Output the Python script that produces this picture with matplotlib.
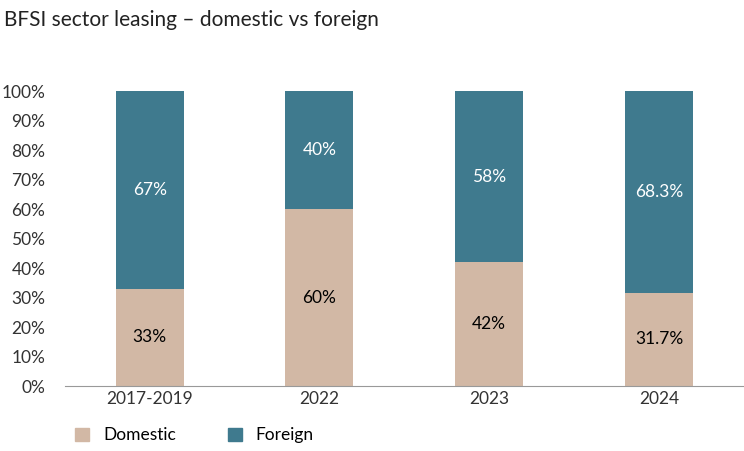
import matplotlib
matplotlib.use("Agg")
import matplotlib.pyplot as plt
from matplotlib.patches import Patch

categories = ["2017-2019", "2022", "2023", "2024"]
domestic = [33, 60, 42, 31.7]
foreign = [67, 40, 58, 68.3]
dom_labels = ["33%", "60%", "42%", "31.7%"]
for_labels = ["67%", "40%", "58%", "68.3%"]

plt.rcParams["font.family"] = "Lato"
fig = plt.figure(figsize=(7.44, 4.51), dpi=100)
ax = fig.add_axes([0.087, 0.144, 0.913, 0.654])
c_dom, c_for = "#D2B8A5", "#3F7A8E"
x = range(len(categories))
ax.bar(x, domestic, width=0.4, color=c_dom)
ax.bar(x, foreign, width=0.4, bottom=domestic, color=c_for)
for i in x:
    ax.text(i, domestic[i] / 2, dom_labels[i], ha="center", va="center", fontsize=12.5, color="black")
    ax.text(i, domestic[i] + foreign[i] / 2, for_labels[i], ha="center", va="center", fontsize=12.5, color="white")
ax.set_xlim(-0.5, 3.5)
ax.set_ylim(0, 100)
ax.set_yticks(range(0, 101, 10))
ax.set_yticklabels([f"{v}%" for v in range(0, 101, 10)])
ax.set_xticks(list(x))
ax.set_xticklabels(categories)
ax.tick_params(length=0, labelsize=12.5, colors="#333333")
ax.tick_params(axis="y", pad=14)
for s in ["top", "right", "left"]:
    ax.spines[s].set_visible(False)
ax.spines["bottom"].set_color("#999999")
fig.text(0.005, 0.955, "BFSI sector leasing \u2013 domestic vs foreign", fontsize=15, va="center", color="#222222")
fig.legend(handles=[Patch(color=c_dom, label="Domestic"), Patch(color=c_for, label="Foreign")],
           loc="center left", bbox_to_anchor=(0.08, 0.035), ncol=2, frameon=False,
           fontsize=12.5, handlelength=0.8, handleheight=0.8, columnspacing=3)
fig.savefig("out.png", dpi=100)
